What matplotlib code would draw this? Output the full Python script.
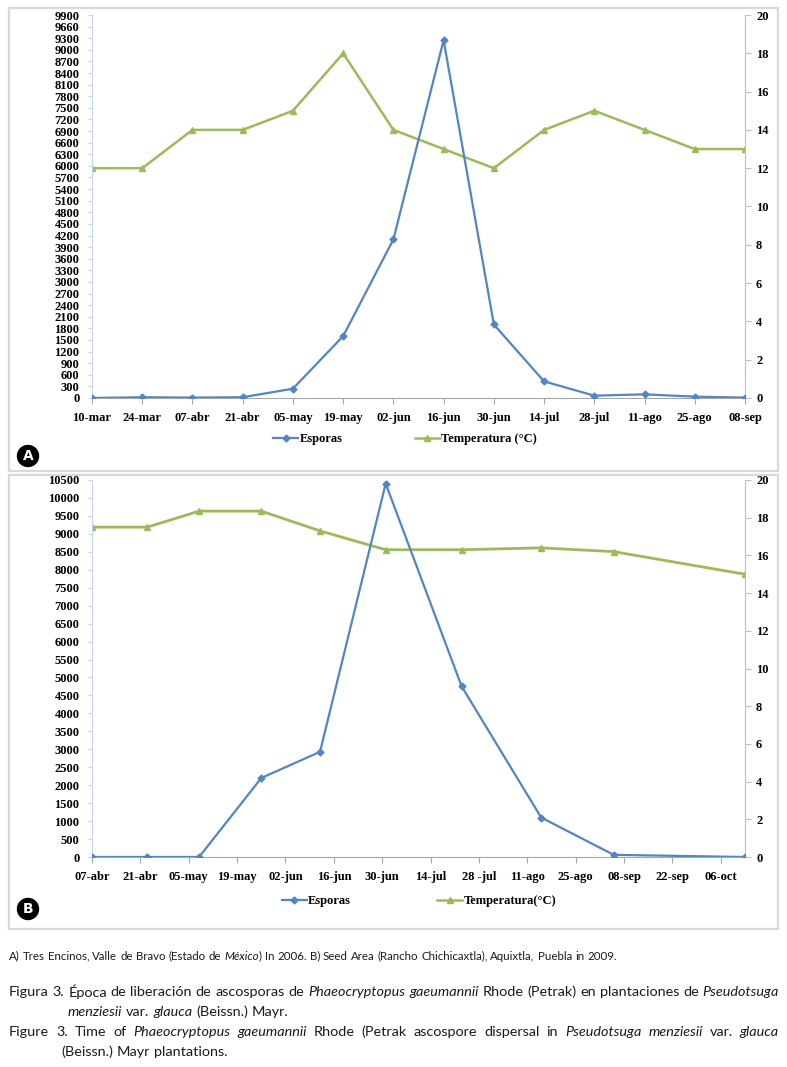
import matplotlib
matplotlib.use('Agg')
import matplotlib.pyplot as plt
from matplotlib.lines import Line2D
from matplotlib.patches import Rectangle, Ellipse
import pandas as pd

W, H = 787, 1067

# ── Panel A data (Tres Encinos 2006) ──
a_labels = ['10-mar', '24-mar', '07-abr', '21-abr', '05-may', '19-may', '02-jun',
            '16-jun', '30-jun', '14-jul', '28-jul', '11-ago', '25-ago', '08-sep']
a_esporas = [0, 20, 10, 20, 240, 1600, 4100, 9250, 1900, 430, 60, 95, 35, 10]
a_temp = [12, 12, 14, 14, 15, 18, 14, 13, 12, 14, 15, 14, 13, 13]
a_left_ticks = list(range(0, 9901, 300))
a_left_labels = [str(v) for v in a_left_ticks]
a_left_labels[-2] = '9660'

# ── Panel B data (Seed Area 2009) ──
b_start = '2009-04-07'
b_dates = ['2009-04-07', '2009-04-23', '2009-05-08', '2009-05-26', '2009-06-12',
           '2009-07-01', '2009-07-23', '2009-08-15', '2009-09-05', '2009-10-13']
b_esporas = [0, 0, 0, 2200, 2930, 10400, 4750, 1100, 60, 0]
b_temp = [17.5, 17.5, 18.35, 18.35, 17.3, 16.3, 16.3, 16.4, 16.2, 15.0]
b_labels = ['07-abr', '21-abr', '05-may', '19-may', '02-jun', '16-jun', '30-jun',
            '14-jul', '28 -jul', '11-ago', '25-ago', '08-sep', '22-sep', '06-oct']

BLUE = '#5285c2'
GREEN = '#9bbb59'
SERIF = {'family': 'Liberation Serif', 'weight': 'bold', 'size': 9}

fig = plt.figure(figsize=(W / 100, H / 100), dpi=100)


def fx(px):
    return px / W


def fy(py):
    return 1 - py / H


def style_axes(ax, ax2):
    for a in (ax, ax2):
        a.spines['top'].set_visible(False)
    ax.spines['right'].set_visible(False)
    ax2.spines['left'].set_visible(False)
    ax2.spines['bottom'].set_visible(False)
    ax.spines['left'].set_color('#c6d5e8')
    ax.spines['bottom'].set_color('#a6a6a6')
    ax2.spines['right'].set_color('#bfbfbf')
    ax.tick_params(axis='y', length=3, color='#c6d5e8', pad=6)
    ax.tick_params(axis='x', length=4, color='#a6a6a6', pad=6)
    ax2.tick_params(axis='y', length=4, color='#bfbfbf', pad=4)
    for lab in ax.get_xticklabels() + ax.get_yticklabels() + ax2.get_yticklabels():
        lab.set_fontfamily('Liberation Serif')
        lab.set_fontweight('bold')
        lab.set_fontsize(9)


# ═══ Panel A ═══
axA = fig.add_axes([fx(92), fy(398), fx(745) - fx(92), fy(15) - fy(398)])
axA2 = axA.twinx()
xa = list(range(len(a_labels)))
axA.plot(xa, a_esporas, color=BLUE, lw=1.6, marker='D', ms=3.5, zorder=3)
axA2.plot(xa, a_temp, color=GREEN, lw=1.8, marker='^', ms=5)
axA.set_xlim(0, len(a_labels) - 1)
axA.set_ylim(0, 9900)
axA.set_yticks(a_left_ticks)
axA.set_yticklabels(a_left_labels)
axA.set_xticks(xa)
axA.set_xticklabels(a_labels)
axA2.set_ylim(0, 20)
axA2.set_yticks(range(0, 21, 2))
axA.set_zorder(axA2.get_zorder() + 1)
axA.patch.set_visible(False)
style_axes(axA, axA2)

# ═══ Panel B ═══
axB = fig.add_axes([fx(92), fy(857), fx(745) - fx(92), fy(480) - fy(857)])
axB2 = axB.twinx()
t0 = pd.Timestamp(b_start)
xb = [(pd.Timestamp(d) - t0).days for d in b_dates]
axB.plot(xb, b_esporas, color=BLUE, lw=1.6, marker='D', ms=3.5, zorder=3)
axB2.plot(xb, b_temp, color=GREEN, lw=2.0, marker='^', ms=5)
axB.set_xlim(0, 189)
axB.set_ylim(0, 10500)
axB.set_yticks(range(0, 10501, 500))
axB.set_xticks([14 * i for i in range(len(b_labels))])
axB.set_xticklabels(b_labels)
axB2.set_ylim(0, 20)
axB2.set_yticks(range(0, 21, 2))
axB.set_zorder(axB2.get_zorder() + 1)
axB.patch.set_visible(False)
style_axes(axB, axB2)

# ── legends ──
def add_legend(cx, cy, temp_label, spacing):
    h = [Line2D([], [], color=BLUE, lw=1.6, marker='D', ms=3.5),
         Line2D([], [], color=GREEN, lw=1.8, marker='^', ms=5)]
    fig.legend(h, ['Esporas', temp_label], loc='center', bbox_to_anchor=(fx(cx), fy(cy)),
               ncol=2, frameon=False, handlelength=2.0, handletextpad=0.1,
               columnspacing=spacing, prop=SERIF)

add_legend(405, 439, 'Temperatura (°C)', 5.8)
add_legend(419, 901, 'Temperatura(°C)', 6.9)

# ── panel frames and circle letters ──
for top, bottom in [(8, 471), (475, 929)]:
    fig.add_artist(Rectangle((fx(9), fy(bottom)), fx(778) - fx(9), fy(top) - fy(bottom),
                             transform=fig.transFigure, fill=False, ec='#d9d9d9', lw=1.6))
for letter, cy in [('A', 456), ('B', 909)]:
    fig.add_artist(Ellipse((fx(28), fy(cy)), fx(21), 21 / H, transform=fig.transFigure,
                           color='black'))
    fig.text(fx(28), fy(cy), letter, color='white', ha='center', va='center',
             fontsize=10, family='DejaVu Sans', weight='bold')

# ── caption ──
CAP_FONT = 'Lato'
renderer = fig.canvas.get_renderer()


def rich_line(x0, y, runs, size, right=None):
    chunks = []
    pending = False
    for txt, it in runs:
        parts = txt.split(' ')
        for i, p in enumerate(parts):
            if i > 0:
                pending = True
            if p:
                chunks.append([p, it, pending and len(chunks) > 0])
                pending = False
    texts = []
    widths = []
    for p, it, _ in chunks:
        t = fig.text(0, fy(y), p, fontsize=size, family=CAP_FONT, weight='normal',
                     color='#1a1a1a', style='italic' if it else 'normal',
                     va='center', ha='left')
        widths.append(t.get_window_extent(renderer).width)
        texts.append(t)
    nsp = sum(1 for c in chunks if c[2])
    gap = size * 100 / 72 * 0.26
    if right is not None and nsp:
        gap = (right - x0 - sum(widths)) / nsp
    x = x0
    for (p, it, sp), t, w in zip(chunks, texts, widths):
        if sp:
            x += gap
        t.set_x(fx(x))
        x += w


rich_line(9, 956, [('A) Tres Encinos, Valle de Bravo (Estado de ', False), ('México', True),
                   (') In 2006. B) Seed Area (Rancho Chichicaxtla), Aquixtla, Puebla in 2009.', False)],
          8.3)
rich_line(9, 992, [('Figura 3. Época de liberación de ascosporas de ', False),
                   ('Phaeocryptopus gaeumannii', True),
                   (' Rhode (Petrak) en plantaciones de ', False), ('Pseudotsuga', True)],
          10.4, right=779)
rich_line(68, 1012, [('menziesii', True), (' var. ', False), ('glauca', True),
                     (' (Beissn.) Mayr.', False)], 10.4)
rich_line(9, 1032, [('Figure 3. Time of ', False), ('Phaeocryptopus gaeumannii', True),
                    (' Rhode (Petrak ascospore dispersal in ', False),
                    ('Pseudotsuga menziesii', True), (' var. ', False), ('glauca', True)],
          10.4, right=779)
rich_line(61, 1052, [('(Beissn.) Mayr plantations.', False)], 10.4)

fig.savefig('out.png', dpi=100)
